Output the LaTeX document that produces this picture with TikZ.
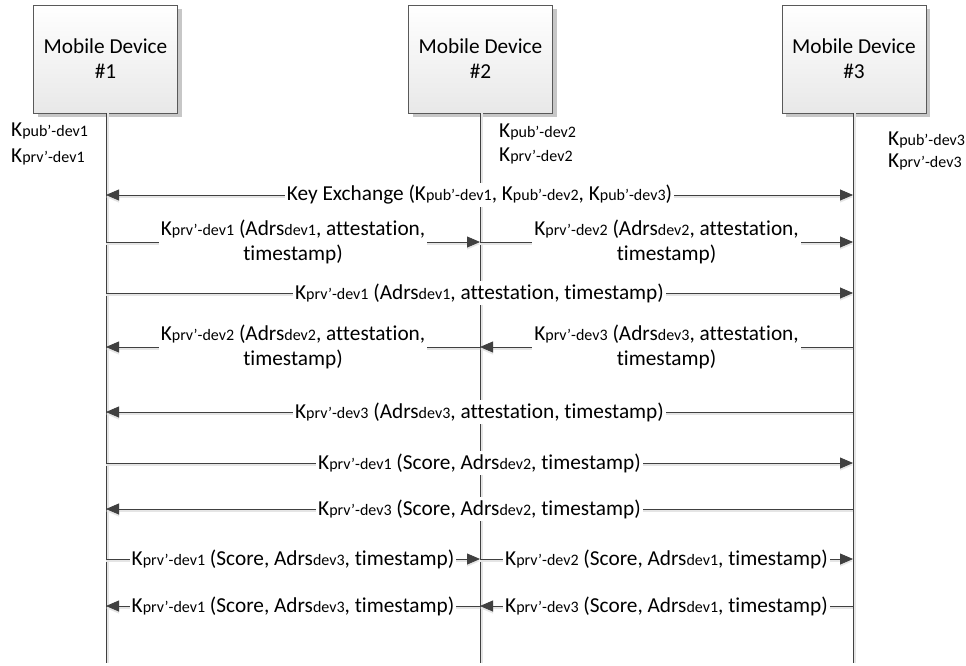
\documentclass[tikz,border=0pt]{standalone}
\usepackage{fontspec}
\setmainfont{Carlito}[Ligatures={NoCommon}]
\usetikzlibrary{arrows.meta,shadows}
\definecolor{ink}{HTML}{404040}
\definecolor{boxline}{HTML}{595959}
\newcommand{\smallpart}[1]{{\fontsize{16}{19}\selectfont #1}}
\newcommand{\kk}[1]{K\smallpart{#1}}
\newcommand{\adrs}[1]{Adrs\smallpart{#1}}
\tikzset{
  every node/.style={font=\fontsize{21.3}{25}\selectfont},
  device/.style={draw=boxline, line width=0.8pt, minimum width=144pt, minimum height=108pt,
    top color=white, bottom color=black!9, align=center,
    drop shadow={shadow xshift=4pt, shadow yshift=-4pt, fill=black!22, opacity=1}},
  lifeline/.style={draw=ink, line width=0.8pt,
    preaction={draw=black!10, line width=1.2pt, transform canvas={xshift=2pt}}},
  msg/.style={draw=ink, line width=0.8pt, -{Triangle[length=13pt,width=11pt]},
    preaction={draw=black!10, line width=1.2pt, transform canvas={yshift=-2pt}}},
  msgboth/.style={msg, {Triangle[length=13pt,width=11pt]}-{Triangle[length=13pt,width=11pt]}},
  lbl/.style={fill=white, inner sep=2pt, align=center},
  keylbl/.style={anchor=base west, inner sep=0pt}
}
\begin{document}
\begin{tikzpicture}[x=1pt,y=-1pt]
\useasboundingbox (0,0) rectangle (966,666);

% devices
\node[device] (d1) at (105.5,59) {Mobile Device\\\#1};
\node[device] (d2) at (480.5,59) {Mobile Device\\\#2};
\node[device] (d3) at (854,59) {Mobile Device\\\#3};

% lifeline ends
\coordinate (e1) at (106,663);
\coordinate (e2) at (480,663);
\coordinate (e3) at (853,663);
\draw[lifeline] (d1.south -| e1) -- (e1);
\draw[lifeline] (d2.south -| e2) -- (e2);
\draw[lifeline] (d3.south -| e3) -- (e3);

% key pairs
\node[keylbl] (k1a) at (11,137) {\kk{pub’-dev1}};
\node[keylbl] (k1b) at (11,162) {\kk{prv’-dev1}};
\node[keylbl] (k2a) at (499,138) {\kk{pub’-dev2}};
\node[keylbl] (k2b) at (499,161) {\kk{prv’-dev2}};
\node[keylbl] (k3a) at (888,146) {\kk{pub’-dev3}};
\node[keylbl] (k3b) at (888,167) {\kk{prv’-dev3}};

% message rows
\coordinate (r1) at (0,195);
\coordinate (r2) at (0,242);
\coordinate (r3) at (0,293);
\coordinate (r4) at (0,347);
\coordinate (r5) at (0,412);
\coordinate (r6) at (0,463);
\coordinate (r7) at (0,509);
\coordinate (r8) at (0,559);
\coordinate (r9) at (0,606);

\draw[msgboth] (e1 |- r1) -- node[lbl] {Key Exchange (\kk{pub’-dev1}, \kk{pub’-dev2}, \kk{pub’-dev3})} (e3 |- r1);

\draw[msg] (e1 |- r2) -- node[lbl] {\kk{prv’-dev1} (\adrs{dev1}, attestation,\\timestamp)} (e2 |- r2);
\draw[msg] (e2 |- r2) -- node[lbl] {\kk{prv’-dev2} (\adrs{dev2}, attestation,\\timestamp)} (e3 |- r2);

\draw[msg] (e1 |- r3) -- node[lbl] {\kk{prv’-dev1} (\adrs{dev1}, attestation, timestamp)} (e3 |- r3);

\draw[msg] (e2 |- r4) -- node[lbl] {\kk{prv’-dev2} (\adrs{dev2}, attestation,\\timestamp)} (e1 |- r4);
\draw[msg] (e3 |- r4) -- node[lbl] {\kk{prv’-dev3} (\adrs{dev3}, attestation,\\timestamp)} (e2 |- r4);

\draw[msg] (e3 |- r5) -- node[lbl] {\kk{prv’-dev3} (\adrs{dev3}, attestation, timestamp)} (e1 |- r5);

\draw[msg] (e1 |- r6) -- node[lbl] {\kk{prv’-dev1} (Score, \adrs{dev2}, timestamp)} (e3 |- r6);

\draw[msg] (e3 |- r7) -- node[lbl] {\kk{prv’-dev3} (Score, \adrs{dev2}, timestamp)} (e1 |- r7);

\draw[msg] (e1 |- r8) -- node[lbl] {\kk{prv’-dev1} (Score, \adrs{dev3}, timestamp)} (e2 |- r8);
\draw[msg] (e2 |- r8) -- node[lbl] {\kk{prv’-dev2} (Score, \adrs{dev1}, timestamp)} (e3 |- r8);

\draw[msg] (e2 |- r9) -- node[lbl] {\kk{prv’-dev1} (Score, \adrs{dev3}, timestamp)} (e1 |- r9);
\draw[msg] (e3 |- r9) -- node[lbl] {\kk{prv’-dev3} (Score, \adrs{dev1}, timestamp)} (e2 |- r9);
\end{tikzpicture}
\end{document}
